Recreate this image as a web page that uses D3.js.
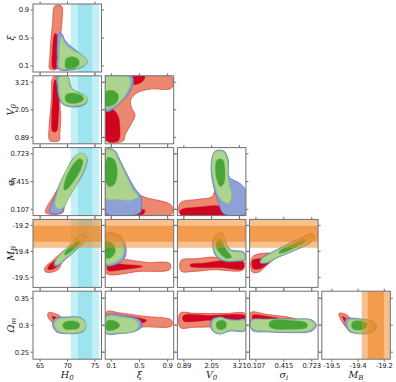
<!DOCTYPE html>
<html>
<head>
<meta charset="utf-8" />
<script src="https://d3js.org/d3.v7.min.js"></script>
<style>
  body { margin: 0; background: #fff; }
  .tick-label { font-family: "DejaVu Sans", sans-serif; font-size: 6.8px; letter-spacing: -0.2px; fill: #222; }
  .axis-label { font-family: "DejaVu Serif", serif; font-style: italic; font-size: 9.5px; fill: #222; }
</style>
</head>
<body>
<div id="chart"></div>
<script>
// parameters: columns (x) and rows (y)
const colParams = ["H0", "xi", "V0", "sigma", "MB"];
const rowParams = ["xi", "V0", "sigma", "MB", "Om"];

const domains = {
  H0: [63.7, 76.2], xi: [0.014, 0.986], V0: [0.62, 3.48],
  sigma: [0.037, 0.793], MB: [-19.55, -19.21], Om: [0.237, 0.363]
};
const ticks = {
  H0: [65, 70, 75], xi: [0.1, 0.5, 0.9], V0: [0.89, 2.05, 3.21],
  sigma: [0.107, 0.415, 0.723], MB: [-19.50, -19.37, -19.24], Om: [0.25, 0.30, 0.35]
};
const tickLabels = {
  H0: ["65", "70", "75"], xi: ["0.1", "0.5", "0.9"], V0: ["0.89", "2.05", "3.21"],
  sigma: ["0.107", "0.415", "0.723"], MB: ["-19.5", "-19.4", "-19.2"], Om: ["0.25", "0.3", "0.35"]
};
const labels = {
  H0: ["H", "0"], xi: ["ξ", ""], V0: ["V", "0"], sigma: ["σ", "i"], MB: ["M", "B"], Om: ["Ω", "m"]
};

// external priors: [2σ low, 1σ low, 1σ high, 2σ high]
const h0Band = [70.6, 71.9, 74.5, 75.8];
const mbBand = [-19.352, -19.322, -19.242, -19.21];

// credible regions (outer = 95%, inner = 68%), key = xParam_yParam
const red = {
  H0_xi: { outer: [[[67.69,0.957],[68.90,0.957],[69.01,0.757],[68.77,0.567],[68.47,0.376],[68.28,0.067],[66.78,0.057],[66.78,0.233],[66.96,0.472],[67.27,0.710]]],
           inner: [[[67.69,0.567],[68.10,0.543],[68.10,0.329],[67.99,0.067],[67.27,0.067],[67.20,0.281],[67.38,0.472]]] },
  H0_V0: { outer: [[[67.38,3.425],[68.77,3.425],[68.90,2.891],[68.59,2.332],[68.77,1.768],[68.59,1.070],[68.47,0.759],[66.78,0.759],[66.65,1.348],[66.91,2.050],[67.09,2.609]]],
           inner: [[[67.69,3.312],[68.28,3.173],[68.47,2.471],[68.36,1.768],[67.99,1.137],[67.27,1.137],[67.09,1.768],[67.27,2.471],[67.38,3.030]]] },
  H0_sigma: { outer: [[[68.6,0.36],[69.3,0.17],[69.1,0.068],[66.0,0.068],[66.2,0.13],[67.1,0.22],[67.9,0.30]]],
              inner: [[[67.69,0.228],[68.28,0.190],[67.99,0.079],[66.78,0.079],[67.09,0.154]]] },
  H0_MB: { outer: [[[69.8,-19.36],[69.0,-19.42],[68.3,-19.46],[66.8,-19.475],[65.9,-19.47],[65.9,-19.45],[67.1,-19.42],[68.3,-19.39]]],
           inner: [[[68.4,-19.405],[68.3,-19.44],[67.2,-19.46],[66.4,-19.46],[66.6,-19.44],[67.5,-19.42]]] },
  H0_Om: { outer: [[[66.47,0.3228],[67.69,0.3217],[68.90,0.3143],[69.32,0.3031],[69.08,0.2876],[68.47,0.2876],[67.38,0.3031],[66.47,0.3143]]],
           inner: [[[67.20,0.3167],[67.99,0.3143],[68.47,0.308],[67.99,0.3056],[67.38,0.3106]]] },
  xi_V0: { outer: [[[0.028,3.451],[0.954,3.451],[0.954,2.963],[0.648,2.921],[0.461,2.752],[0.376,2.471],[0.390,2.122],[0.437,1.840],[0.390,1.491],[0.296,0.998],[0.272,0.746],[0.028,0.746]]],
           inner: [[[0.028,2.079],[0.131,2.050],[0.201,1.768],[0.225,1.280],[0.201,0.746],[0.028,0.746]],
                   [[0.366,3.451],[0.578,3.451],[0.545,3.240],[0.437,3.101],[0.376,3.173]]] },
  xi_sigma: { outer: [[[0.390,0.284],[0.602,0.235],[0.954,0.150],[0.954,0.053],[0.028,0.053],[0.028,0.172],[0.225,0.209]]],
              inner: [[[0.028,0.106],[0.413,0.106],[0.578,0.098],[0.554,0.053],[0.028,0.053]]] },
  xi_MB: { outer: [[[0.03,-19.40],[0.3,-19.41],[0.6,-19.425],[0.93,-19.43],[0.93,-19.46],[0.5,-19.47],[0.03,-19.48]]],
           inner: [[[0.05,-19.435],[0.3,-19.435],[0.55,-19.445],[0.3,-19.46],[0.05,-19.465]]] },
  xi_Om: { outer: [[[0.028,0.3246],[0.225,0.3228],[0.554,0.3167],[0.954,0.3093],[0.954,0.2987],[0.554,0.2968],[0.225,0.2939],[0.028,0.2846]]],
           inner: [[[0.084,0.3167],[0.413,0.3154],[0.602,0.3093],[0.554,0.3043],[0.225,0.3061],[0.084,0.308]]] },
  V0_sigma: { outer: [[[0.744,0.179],[1.437,0.217],[2.058,0.246],[2.266,0.357],[2.432,0.246],[2.68,0.098],[3.44,0.079],[3.44,0.05],[0.744,0.05]]],
              inner: [[[0.744,0.098],[1.573,0.135],[2.402,0.142],[2.651,0.079],[2.68,0.05],[0.744,0.05]]] },
  V0_MB: { outer: [[[0.773,-19.415],[1.437,-19.4065],[2.125,-19.3985],[2.61,-19.4115],[3.368,-19.415],[3.368,-19.4615],[2.125,-19.4615],[1.296,-19.47],[0.773,-19.4685]]],
           inner: [[[1.159,-19.435],[1.71,-19.4285],[2.266,-19.4185],[2.817,-19.415],[3.368,-19.4235],[3.368,-19.4565],[2.402,-19.4515],[1.573,-19.4515],[1.159,-19.445]]] },
  V0_Om: { outer: [[[0.74,0.3225],[1.3,0.322],[1.99,0.3217],[2.7,0.3217],[3.44,0.3217],[3.44,0.298],[2.7,0.2975],[1.99,0.2968],[1.3,0.2962],[0.74,0.2957]]],
           inner: [[[0.87,0.318],[2.0,0.3185],[3.44,0.318],[3.44,0.3125],[2.0,0.309],[0.87,0.308]]] },
  sigma_MB: { outer: [[[0.067,-19.3985],[0.231,-19.3785],[0.322,-19.39],[0.286,-19.415],[0.212,-19.445],[0.139,-19.4735],[0.067,-19.4735]]],
              inner: [[[0.067,-19.415],[0.194,-19.4065],[0.249,-19.4235],[0.158,-19.4565],[0.078,-19.4565]]] },
  sigma_Om: { outer: [[[0.048,0.3235],[0.231,0.3198],[0.486,0.3143],[0.596,0.308],[0.486,0.3043],[0.231,0.3019],[0.048,0.2981]]],
              inner: [[[0.067,0.3185],[0.231,0.3167],[0.358,0.3124],[0.267,0.308],[0.084,0.308]]] },
  MB_Om: { outer: [[[-19.465,0.3217],[-19.44,0.3217],[-19.407,0.3124],[-19.391,0.300],[-19.407,0.2907],[-19.423,0.2939],[-19.456,0.3106]]],
           inner: [[[-19.448,0.3167],[-19.423,0.3106],[-19.41,0.3019],[-19.427,0.3031],[-19.443,0.3106]]] }
};

const blue = {
  H0_xi: { outer: [[[68.28,0.553],[68.90,0.567],[69.50,0.472],[70.71,0.376],[72.22,0.281],[73.54,0.186],[73.54,0.139],[72.22,0.067],[68.28,0.057],[68.10,0.233],[68.10,0.424]]],
           inner: [[[69.6,0.23],[71.2,0.26],[72.4,0.19],[72.3,0.10],[71.1,0.06],[69.4,0.06],[69.2,0.15]]] },
  H0_V0: { outer: [[[68.10,3.451],[70.10,3.451],[70.71,2.963],[72.22,2.752],[73.54,2.542],[73.43,2.332],[72.22,2.191],[70.10,2.191],[68.90,2.332],[68.36,2.609],[68.10,3.030]]],
           inner: [[[69.4,2.78],[71.3,2.82],[73.1,2.64],[73.1,2.43],[72.0,2.28],[70.0,2.28],[69.2,2.5]]] },
  H0_sigma: { outer: [[[72.22,0.721],[73.54,0.673],[73.12,0.543],[71.62,0.376],[70.10,0.228],[69.19,0.098],[68.90,0.068],[66.78,0.068],[66.91,0.135],[67.69,0.246],[68.59,0.395],[69.81,0.543],[71.00,0.673]]],
              inner: [[[72.2,0.68],[72.9,0.65],[72.5,0.55],[71.2,0.42],[69.8,0.3],[69.0,0.27],[69.0,0.36],[69.8,0.49],[71.1,0.62]]] },
  H0_MB: { outer: [[[72.5,-19.285],[73.4,-19.297],[72.9,-19.326],[71.3,-19.37],[69.5,-19.413],[68.2,-19.443],[67.5,-19.44],[68.2,-19.4],[69.8,-19.355],[71.3,-19.312]]],
           inner: [[[71.9,-19.313],[72.6,-19.317],[71.6,-19.35],[70.1,-19.384],[69.4,-19.393],[69.4,-19.374],[70.7,-19.339]]] },
  H0_Om: { outer: [[[67.69,0.3124],[70.10,0.3154],[72.52,0.3135],[73.30,0.3031],[73.12,0.2907],[71.91,0.2852],[69.19,0.2846],[68.0,0.2876],[67.27,0.3]]],
           inner: [[[69.4,0.307],[71.3,0.3085],[72.3,0.3031],[72.2,0.2945],[71.0,0.2915],[69.4,0.292],[68.9,0.3]]] },
  xi_V0: { outer: [[[0.028,3.48],[0.390,3.48],[0.413,3.173],[0.376,2.891],[0.320,2.609],[0.225,2.332],[0.131,2.079],[0.028,1.98]]],
           inner: [[[0.028,2.9],[0.17,2.95],[0.24,2.7],[0.22,2.38],[0.12,2.18],[0.028,2.15]]] },
  xi_sigma: { outer: [[[0.028,0.773],[0.141,0.765],[0.235,0.635],[0.342,0.468],[0.437,0.339],[0.517,0.254],[0.531,0.135],[0.507,0.068],[0.028,0.061]]],
              inner: [[[0.028,0.72],[0.16,0.7],[0.22,0.55],[0.19,0.37],[0.09,0.32],[0.028,0.34]]] },
  xi_MB: { outer: [[[0.03,-19.28],[0.22,-19.29],[0.31,-19.35],[0.28,-19.41],[0.12,-19.44],[0.03,-19.44]]],
           inner: [[[0.03,-19.315],[0.13,-19.325],[0.18,-19.37],[0.11,-19.405],[0.03,-19.41]]] },
  xi_Om: { outer: [[[0.028,0.3185],[0.320,0.3167],[0.507,0.3093],[0.531,0.2968],[0.413,0.2876],[0.225,0.2846],[0.028,0.2846]]],
           inner: [[[0.03,0.3095],[0.17,0.3095],[0.25,0.300],[0.17,0.2905],[0.03,0.2895]]] },
  V0_sigma: { outer: [[[2.195,0.754],[2.568,0.754],[2.746,0.654],[2.788,0.468],[3.231,0.395],[3.467,0.320],[3.467,0.061],[2.539,0.061],[2.332,0.190],[2.10,0.395],[2.029,0.617]]],
              inner: [[[2.24,0.67],[2.54,0.675],[2.65,0.54],[2.6,0.38],[2.4,0.34],[2.24,0.42],[2.17,0.56]]] },
  V0_MB: { outer: [[[2.17,-19.295],[2.48,-19.277],[2.63,-19.32],[2.83,-19.36],[3.40,-19.374],[3.46,-19.41],[3.1,-19.42],[2.6,-19.42],[2.24,-19.395],[2.09,-19.34]]],
           inner: [[[2.25,-19.312],[2.48,-19.308],[2.58,-19.338],[2.76,-19.372],[2.91,-19.40],[2.68,-19.41],[2.39,-19.385],[2.22,-19.35]]] },
  V0_Om: { outer: [[[2.06,0.3106],[2.40,0.3155],[2.7,0.312],[3.1,0.310],[3.45,0.311],[3.45,0.290],[2.8,0.289],[2.4,0.2835],[2.1,0.289],[2.0,0.3]]],
           inner: [[[2.25,0.3068],[2.54,0.31],[2.7,0.3031],[2.63,0.2932],[2.33,0.2912],[2.22,0.298]]] },
  sigma_MB: { outer: [[[0.726,-19.281],[0.755,-19.297],[0.712,-19.325],[0.523,-19.368],[0.341,-19.402],[0.231,-19.428],[0.152,-19.428],[0.17,-19.404],[0.341,-19.361],[0.560,-19.311]]],
              inner: [[[0.632,-19.304],[0.668,-19.318],[0.56,-19.349],[0.413,-19.379],[0.352,-19.383],[0.37,-19.361],[0.523,-19.329]]] },
  sigma_Om: { outer: [[[0.05,0.3100],[0.23,0.3115],[0.49,0.3115],[0.72,0.31],[0.775,0.3],[0.72,0.289],[0.49,0.2862],[0.23,0.2876],[0.07,0.2895],[0.045,0.300]]],
              inner: [[[0.26,0.3085],[0.49,0.3098],[0.675,0.3045],[0.675,0.2952],[0.49,0.2912],[0.28,0.2932],[0.24,0.3]]] },
  MB_Om: { outer: [[[-19.43,0.3115],[-19.36,0.3118],[-19.295,0.307],[-19.278,0.297],[-19.305,0.286],[-19.375,0.2845],[-19.415,0.289],[-19.432,0.300]]],
           inner: [[[-19.403,0.3068],[-19.348,0.3087],[-19.32,0.3031],[-19.328,0.2935],[-19.375,0.29],[-19.403,0.2932]]] }
};

const green = {
  H0_xi: { outer: [[[68.90,0.519],[69.50,0.424],[70.71,0.338],[72.52,0.257],[73.54,0.186],[73.54,0.139],[72.22,0.076],[69.81,0.057],[68.59,0.067],[68.47,0.233],[68.59,0.424]]],
           inner: [[[69.81,0.210],[71.13,0.233],[72.09,0.186],[72.09,0.114],[71.13,0.067],[69.68,0.067],[69.50,0.139]]] },
  H0_V0: { outer: [[[68.47,3.425],[70.10,3.425],[70.53,3.004],[71.91,2.778],[73.54,2.584],[73.54,2.399],[72.52,2.260],[70.40,2.218],[69.19,2.332],[68.59,2.609],[68.36,3.030]]],
           inner: [[[69.81,2.710],[71.31,2.752],[72.81,2.609],[72.94,2.471],[71.91,2.332],[70.10,2.332],[69.50,2.500]]] },
  H0_sigma: { outer: [[[72.09,0.729],[73.12,0.721],[73.54,0.673],[73.12,0.562],[71.91,0.413],[70.53,0.265],[69.32,0.135],[68.28,0.109],[67.74,0.154],[68.10,0.284],[69.08,0.451],[70.10,0.580],[71.13,0.673]]],
              inner: [[[72.22,0.673],[72.81,0.646],[72.52,0.562],[71.31,0.432],[70.10,0.339],[69.37,0.320],[69.32,0.376],[69.91,0.487],[71.13,0.617]]] },
  H0_MB: { outer: [[[72.52,-19.29],[73.30,-19.299],[72.81,-19.324],[71.31,-19.365],[69.50,-19.407],[68.28,-19.435],[67.69,-19.432],[68.28,-19.399],[69.81,-19.357],[71.31,-19.315]]],
           inner: [[[71.91,-19.315],[72.52,-19.319],[71.62,-19.349],[70.10,-19.382],[69.50,-19.39],[69.50,-19.374],[70.71,-19.34]]] },
  H0_Om: { outer: [[[68.10,0.3106],[70.10,0.3135],[72.52,0.3124],[73.30,0.3031],[73.12,0.292],[71.91,0.2865],[69.50,0.2857],[68.28,0.2894],[67.56,0.3019]]],
           inner: [[[69.50,0.3061],[71.31,0.308],[72.22,0.3031],[72.09,0.295],[71.00,0.292],[69.50,0.2926],[69.08,0.300]]] },
  xi_V0: { outer: [[[0.028,3.451],[0.342,3.451],[0.376,3.173],[0.342,2.891],[0.272,2.542],[0.179,2.261],[0.084,2.122],[0.028,2.079]]],
           inner: [[[0.028,2.82],[0.131,2.862],[0.201,2.681],[0.187,2.40],[0.108,2.218],[0.028,2.19]]] },
  xi_sigma: { outer: [[[0.028,0.765],[0.131,0.757],[0.216,0.635],[0.320,0.468],[0.413,0.320],[0.484,0.246],[0.390,0.209],[0.179,0.217],[0.028,0.228]]],
              inner: [[[0.046,0.684],[0.141,0.662],[0.187,0.543],[0.155,0.395],[0.075,0.357],[0.028,0.395]]] },
  xi_MB: { outer: [[[0.03,-19.29],[0.2,-19.30],[0.28,-19.35],[0.25,-19.40],[0.12,-19.43],[0.03,-19.43]]],
           inner: [[[0.03,-19.32],[0.12,-19.33],[0.16,-19.37],[0.1,-19.40],[0.03,-19.405]]] },
  xi_Om: { outer: [[[0.028,0.3154],[0.272,0.3143],[0.461,0.308],[0.484,0.2968],[0.39,0.2876],[0.179,0.2857],[0.028,0.2857]]],
           inner: [[[0.038,0.308],[0.155,0.308],[0.225,0.300],[0.155,0.292],[0.038,0.2907]]] },
  V0_sigma: { outer: [[[2.195,0.746],[2.539,0.746],[2.705,0.654],[2.746,0.432],[2.887,0.246],[2.746,0.172],[2.402,0.228],[2.125,0.432],[2.058,0.617]]],
              inner: [[[2.266,0.654],[2.514,0.662],[2.61,0.543],[2.568,0.395],[2.402,0.357],[2.266,0.432],[2.195,0.562]]] },
  V0_MB: { outer: [[[2.195,-19.2985],[2.473,-19.2815],[2.61,-19.3235],[2.817,-19.365],[3.368,-19.3785],[3.439,-19.4065],[3.094,-19.415],[2.61,-19.415],[2.266,-19.39],[2.125,-19.34]]],
           inner: [[[2.266,-19.315],[2.473,-19.3115],[2.568,-19.34],[2.746,-19.3735],[2.887,-19.3985],[2.68,-19.4065],[2.402,-19.3815],[2.237,-19.3485]]] },
  V0_Om: { outer: [[[2.125,0.3093],[2.402,0.3143],[2.68,0.3106],[3.094,0.308],[3.439,0.3093],[3.439,0.292],[2.817,0.2907],[2.402,0.2846],[2.125,0.2907],[2.058,0.300]]],
           inner: [[[2.266,0.3061],[2.539,0.3093],[2.68,0.3031],[2.61,0.2939],[2.332,0.292],[2.237,0.2981]]] },
  sigma_MB: { outer: [[[0.724,-19.285],[0.749,-19.2985],[0.706,-19.3235],[0.523,-19.365],[0.341,-19.3985],[0.231,-19.4235],[0.158,-19.4235],[0.176,-19.4065],[0.341,-19.365],[0.560,-19.315]]],
              inner: [[[0.632,-19.3065],[0.662,-19.3185],[0.560,-19.3465],[0.413,-19.3765],[0.358,-19.38],[0.377,-19.3635],[0.523,-19.3315]]] },
  sigma_Om: { outer: [[[0.067,0.3093],[0.231,0.3106],[0.486,0.3106],[0.706,0.3093],[0.760,0.300],[0.706,0.2907],[0.486,0.2876],[0.231,0.2894],[0.084,0.292],[0.048,0.300]]],
              inner: [[[0.267,0.308],[0.486,0.3093],[0.669,0.3043],[0.669,0.2957],[0.486,0.292],[0.286,0.2939],[0.249,0.300]]] },
  MB_Om: { outer: [[[-19.4155,0.3093],[-19.358,0.3106],[-19.30,0.3061],[-19.284,0.2968],[-19.309,0.2876],[-19.374,0.2857],[-19.41,0.2907],[-19.423,0.300]]],
           inner: [[[-19.399,0.3061],[-19.349,0.308],[-19.325,0.3031],[-19.333,0.2939],[-19.374,0.2907],[-19.399,0.2939]]] }
};

const datasets = [
  { data: red,   outer: "#ea8870", inner: "#d0041e", edge: "#de3b3b" },
  { data: blue,  outer: "#8fa0d8", inner: "#6f86cf", edge: "#4f72c6" },
  { data: green, outer: "#acd48f", inner: "#47a537", edge: "#8cc26a" }
];

// layout
const W = 396, H = 382;
const left0 = 33, top0 = 4, pw = 68.5, ph = 68, stepX = 72.2, stepY = 71.8;

const svg = d3.select("#chart").append("svg").attr("width", W).attr("height", H);

rowParams.forEach(function (yp, r) {
  colParams.forEach(function (xp, c) {
    if (c > r) return;
    const x0 = left0 + c * stepX, y0 = top0 + r * stepY;
    const x = d3.scaleLinear().domain(domains[xp]).range([0, pw]);
    const y = d3.scaleLinear().domain(domains[yp]).range([ph, 0]);
    const key = xp + "_" + yp;
    const clipId = "clip-" + key;

    const g = svg.append("g").attr("transform", `translate(${x0},${y0})`);
    g.append("clipPath").attr("id", clipId).append("rect").attr("width", pw).attr("height", ph);
    const body = g.append("g").attr("clip-path", `url(#${clipId})`);

    // H0 prior band (behind contours)
    if (xp === "H0") {
      body.append("rect").attr("x", x(h0Band[0])).attr("width", x(h0Band[3]) - x(h0Band[0]))
        .attr("y", 0).attr("height", ph).attr("fill", "#c3f0f7");
      body.append("rect").attr("x", x(h0Band[1])).attr("width", x(h0Band[2]) - x(h0Band[1]))
        .attr("y", 0).attr("height", ph).attr("fill", "#9de4ef");
    }

    const line = d3.line().x(d => x(d[0])).y(d => y(d[1])).curve(d3.curveCatmullRomClosed.alpha(0.5));

    datasets.forEach(function (ds) {
      const cl = ds.data[key];
      if (!cl) return;
      body.selectAll(null).data(cl.outer).enter().append("path")
        .attr("d", line).attr("fill", ds.outer).attr("stroke", ds.edge).attr("stroke-width", 0.7);
      body.selectAll(null).data(cl.inner).enter().append("path")
        .attr("d", line).attr("fill", ds.inner).attr("stroke", ds.edge).attr("stroke-width", 0.4);
    });

    // MB prior band (on top, translucent)
    if (yp === "MB") {
      body.append("rect").attr("x", 0).attr("width", pw)
        .attr("y", y(mbBand[3])).attr("height", y(mbBand[0]) - y(mbBand[3]))
        .attr("fill", "#f08420").attr("fill-opacity", 0.5);
      body.append("rect").attr("x", 0).attr("width", pw)
        .attr("y", y(mbBand[2])).attr("height", y(mbBand[1]) - y(mbBand[2]))
        .attr("fill", "#f08420").attr("fill-opacity", 0.6);
    }
    if (xp === "MB") {
      body.append("rect").attr("y", 0).attr("height", ph)
        .attr("x", x(mbBand[0])).attr("width", x(mbBand[3]) - x(mbBand[0]))
        .attr("fill", "#f08420").attr("fill-opacity", 0.5);
      body.append("rect").attr("y", 0).attr("height", ph)
        .attr("x", x(mbBand[1])).attr("width", x(mbBand[2]) - x(mbBand[1]))
        .attr("fill", "#f08420").attr("fill-opacity", 0.6);
    }

    // frame
    g.append("rect").attr("width", pw).attr("height", ph)
      .attr("fill", "none").attr("stroke", "#6f6f6f").attr("stroke-width", 1);

    // outward ticks on all four sides
    const tl = 2.5;
    ticks[xp].forEach(function (t) {
      g.append("line").attr("x1", x(t)).attr("x2", x(t)).attr("y1", 0).attr("y2", -tl).attr("stroke", "#6f6f6f");
      g.append("line").attr("x1", x(t)).attr("x2", x(t)).attr("y1", ph).attr("y2", ph + tl).attr("stroke", "#6f6f6f");
    });
    ticks[yp].forEach(function (t) {
      g.append("line").attr("y1", y(t)).attr("y2", y(t)).attr("x1", 0).attr("x2", -tl).attr("stroke", "#6f6f6f");
      g.append("line").attr("y1", y(t)).attr("y2", y(t)).attr("x1", pw).attr("x2", pw + tl).attr("stroke", "#6f6f6f");
    });

    if (c === 0) {
      ticks[yp].forEach(function (t, i) {
        g.append("text").attr("class", "tick-label").attr("x", -4).attr("y", y(t))
          .attr("dy", "0.35em").attr("text-anchor", "end").text(tickLabels[yp][i]);
      });
    }
    if (r === rowParams.length - 1) {
      ticks[xp].forEach(function (t, i) {
        g.append("text").attr("class", "tick-label").attr("x", x(t)).attr("y", ph + 9)
          .attr("text-anchor", "middle").text(tickLabels[xp][i]);
      });
    }
  });
});

// axis labels
function addLabel(sel, p) {
  sel.text(labels[p][0]);
  if (labels[p][1]) {
    sel.append("tspan").attr("font-size", "7px").attr("dy", 2).text(labels[p][1]);
  }
}
rowParams.forEach(function (p, r) {
  const cy = top0 + r * stepY + ph / 2;
  const t = svg.append("text").attr("class", "axis-label")
    .attr("transform", `translate(14,${cy}) rotate(-90)`).attr("text-anchor", "middle");
  addLabel(t, p);
});
colParams.forEach(function (p, c) {
  const cx = left0 + c * stepX + pw / 2;
  const t = svg.append("text").attr("class", "axis-label")
    .attr("x", cx).attr("y", 378).attr("text-anchor", "middle");
  addLabel(t, p);
});
</script>
</body>
</html>
